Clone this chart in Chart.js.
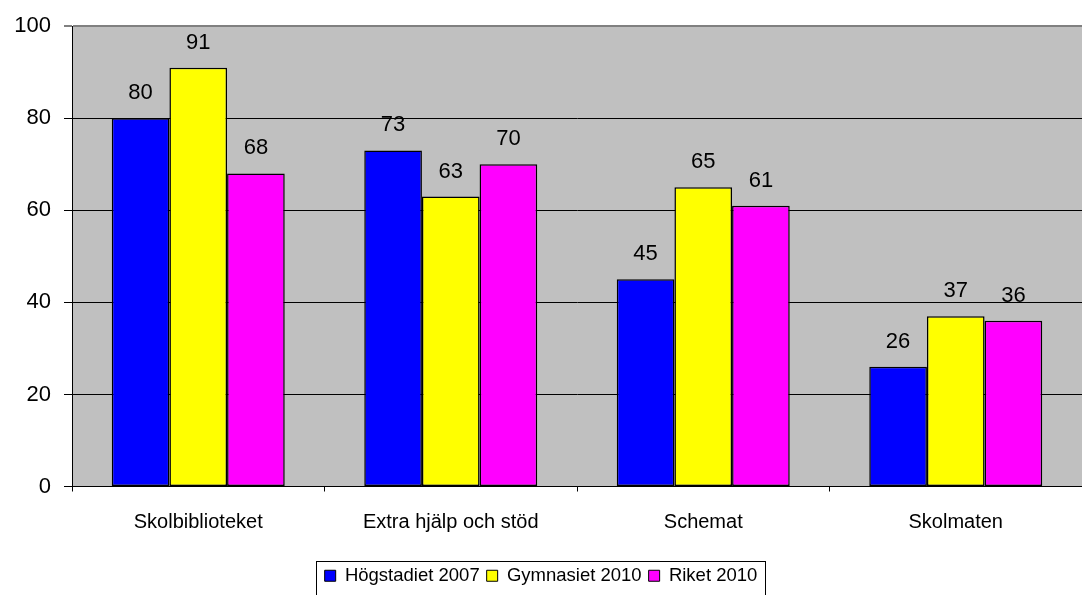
<!DOCTYPE html>
<html>
<head>
<meta charset="utf-8">
<script src="https://cdn.jsdelivr.net/npm/chart.js@4/dist/chart.umd.min.js"></script>
<style>
html,body{margin:0;padding:0;background:#fff;}
#wrap{width:1082px;height:595px;position:relative;}
</style>
</head>
<body>
<div id="wrap"><canvas id="c" width="1082" height="595"></canvas></div>
<script>
const categories = ["Skolbiblioteket", "Extra hjälp och stöd", "Schemat", "Skolmaten"];
const hogstadiet2007 = [80, 73, 45, 26];
const gymnasiet2010 = [91, 63, 65, 37];
const riket2010 = [68, 70, 61, 36];
const seriesNames = ["Högstadiet 2007", "Gymnasiet 2010", "Riket 2010"];
const yTicks = [0, 20, 40, 60, 80, 100];

const FONT = "'Liberation Sans', Arial, sans-serif";

const plotBg = {
  id: 'plotBg',
  beforeDraw(chart) {
    const {ctx, chartArea: a} = chart;
    ctx.save();
    ctx.fillStyle = '#C0C0C0';
    ctx.fillRect(a.left, a.top, a.right - a.left, a.bottom - a.top);
    ctx.restore();
  }
};

const valueLabels = {
  id: 'valueLabels',
  afterDatasetsDraw(chart) {
    const {ctx} = chart;
    ctx.save();
    ctx.font = "22px " + FONT;
    ctx.fillStyle = '#000';
    ctx.textAlign = 'center';
    ctx.textBaseline = 'alphabetic';
    chart.data.datasets.forEach((ds, i) => {
      chart.getDatasetMeta(i).data.forEach((bar, j) => {
        ctx.fillText(String(ds.data[j]), bar.x, bar.y - 19);
      });
    });
    ctx.restore();
  }
};

const legendBorder = {
  id: 'legendBorder',
  afterDraw(chart) {
    const lg = chart.legend;
    if (!lg || !lg.legendHitBoxes || !lg.legendHitBoxes.length) return;
    const hb = lg.legendHitBoxes;
    let l = Infinity, r = -Infinity;
    hb.forEach(h => { l = Math.min(l, h.left); r = Math.max(r, h.left + h.width); });
    const {ctx} = chart;
    ctx.save();
    ctx.strokeStyle = '#000';
    ctx.lineWidth = 1;
    ctx.strokeRect(Math.round(l - 9) + 0.5, 561.5, Math.round(r - l + 16), 40);
    ctx.restore();
  }
};

const mk = (label, data, color) => ({
  label, data,
  backgroundColor: color,
  borderColor: '#000',
  borderWidth: 1.5,
  borderSkipped: false,
  barPercentage: 1,
  categoryPercentage: 0.685
});

new Chart(document.getElementById('c'), {
  type: 'bar',
  data: {
    labels: categories,
    datasets: [
      mk(seriesNames[0], hogstadiet2007, '#0000FF'),
      mk(seriesNames[1], gymnasiet2010, '#FFFF00'),
      mk(seriesNames[2], riket2010, '#FF00FF')
    ]
  },
  options: {
    responsive: false,
    animation: false,
    devicePixelRatio: 1,
    layout: { padding: { top: 25, right: 0, left: 0, bottom: 0 } },
    plugins: {
      tooltip: { enabled: false },
      legend: {
        position: 'bottom',
        labels: {
          font: { size: 18.5, family: FONT },
          color: '#000',
          boxWidth: 11,
          boxHeight: 11,
          padding: 7,
          generateLabels(chart) {
            return chart.data.datasets.map((ds, i) => ({
              text: ds.label,
              fillStyle: ds.backgroundColor,
              strokeStyle: '#000',
              lineWidth: 1,
              datasetIndex: i,
              hidden: false
            }));
          }
        }
      }
    },
    scales: {
      x: {
        grid: { offset: true, drawOnChartArea: false, color: '#000', tickLength: 5 },
        border: { color: '#000', width: 1 },
        ticks: { font: { size: 20, family: FONT }, color: '#000', padding: 19 },
        afterFit(s) { s.height = 73; }
      },
      y: {
        min: 0, max: 100,
        afterBuildTicks(s) { s.ticks = yTicks.map(v => ({value: v})); },
        grid: {
          color: (c) => c.tick && c.tick.value === 100 ? '#808080' : '#000',
          lineWidth: (c) => c.tick && c.tick.value === 100 ? 2 : 1,
          tickLength: 8
        },
        border: { color: '#000', width: 1 },
        ticks: { font: { size: 22, family: FONT }, color: '#000', padding: 13 },
        afterFit(s) { s.width = 72; }
      }
    }
  },
  plugins: [plotBg, valueLabels, legendBorder]
});
</script>
</body>
</html>
